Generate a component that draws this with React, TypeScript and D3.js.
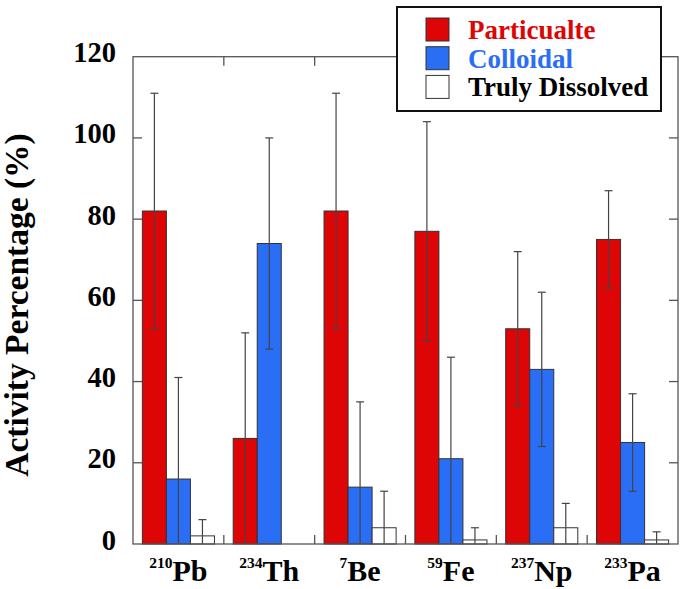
import React from "react";
import * as d3 from "d3";

const isotopeMass = ["210", "234", "7", "59", "237", "233"];
const elements = ["Pb", "Th", "Be", "Fe", "Np", "Pa"];
const seriesNames = ["Particualte", "Colloidal", "Truly Dissolved"];
const particulate = [82, 26, 82, 77, 53, 75];
const particulateErr = [29, 26, 29, 27, 19, 12];
const colloidal = [16, 74, 14, 21, 43, 25];
const colloidalErr = [25, 26, 21, 25, 19, 12];
const dissolved = [2, 0, 4, 1, 4, 1];
const dissolvedErr = [4, 0, 9, 3, 6, 2];
const yTicks = [0, 20, 40, 60, 80, 100, 120];

const fills = ["#dd0505", "#2b6ef6", "#ffffff"];
const textColors = ["#dd0505", "#2b6ef6", "#000000"];
const FONT = "Liberation Serif";

export default function App() {
  const W = 685, H = 589;
  const left = 133, right = 678, top = 56.7, bottom = 544;
  const x0 = d3.scaleBand<string>().domain(elements).range([left, right]).padding(0);
  const x1 = d3
    .scaleBand<string>()
    .domain(seriesNames)
    .range([0, x0.bandwidth()])
    .paddingInner(0)
    .paddingOuter(0.39);
  const y = d3.scaleLinear().domain([0, 120]).range([bottom, top]);

  const values = [particulate, colloidal, dissolved];
  const errs = [particulateErr, colloidalErr, dissolvedErr];

  const bars: any[] = [];
  const errBars: any[] = [];
  elements.forEach((el, i) => {
    seriesNames.forEach((s, j) => {
      const v = values[j][i];
      const e = errs[j][i];
      const bx = (x0(el) as number) + (x1(s) as number);
      const bw = x1.bandwidth();
      if (v > 0) {
        bars.push(
          <rect
            key={`b${i}-${j}`}
            x={bx}
            y={y(v)}
            width={bw}
            height={y(0) - y(v)}
            fill={fills[j]}
            stroke="#333"
            strokeWidth={1}
          />
        );
      }
      if (e > 0) {
        const cx = bx + bw / 2;
        const hi = v + e;
        const lo = Math.max(0, v - e);
        errBars.push(
          <g key={`e${i}-${j}`} stroke="#444" strokeWidth={1.2}>
            <line x1={cx} x2={cx} y1={y(hi)} y2={y(lo)} />
            <line x1={cx - 4} x2={cx + 4} y1={y(hi)} y2={y(hi)} />
            {v - e > 0 && <line x1={cx - 4} x2={cx + 4} y1={y(lo)} y2={y(lo)} />}
          </g>
        );
      }
    });
  });

  const tickLen = 9;

  return (
    <svg
      width={W}
      height={H}
      style={{ position: "absolute", left: 0, top: 0, background: "#fff" }}
    >
      <style>{`text, tspan { font-family: "Liberation Serif", serif; font-weight: bold; }`}</style>
      <rect x={0} y={0} width={W} height={H} fill="#fff" />
      {bars}
      {errBars}
      <rect x={left} y={top} width={right - left} height={bottom - top} fill="none" stroke="#555" strokeWidth={1.3} />
      {yTicks.map((t) => (
        <g key={`yt${t}`}>
          {t > 0 && t < 120 && (
            <>
              <line x1={left} x2={left + tickLen} y1={y(t)} y2={y(t)} stroke="#555" strokeWidth={1.3} />
              <line x1={right} x2={right - tickLen} y1={y(t)} y2={y(t)} stroke="#555" strokeWidth={1.3} />
            </>
          )}
          <text x={116} y={y(t) + 5.5} textAnchor="end" fontSize={28.5} fontFamily={FONT} fontWeight="bold" fill="#000">
            {t}
          </text>
        </g>
      ))}
      {elements.slice(1).map((el) => {
        const xx = x0(el) as number;
        return (
          <g key={`xt${el}`}>
            <line x1={xx} x2={xx} y1={bottom} y2={bottom - tickLen} stroke="#555" strokeWidth={1.3} />
            <line x1={xx} x2={xx} y1={top} y2={top + tickLen} stroke="#555" strokeWidth={1.3} />
          </g>
        );
      })}
      {elements.map((el, i) => {
        const cx = (x0(el) as number) + x0.bandwidth() / 2;
        return (
          <text key={`xl${el}`} x={cx} y={581} textAnchor="middle" fontFamily={FONT} fontWeight="bold" fill="#000">
            <tspan fontSize={15.5} dy={-13}>{isotopeMass[i]}</tspan>
            <tspan fontSize={30} dy={13}>{el}</tspan>
          </text>
        );
      })}
      <text
        transform={`translate(28, ${(132 + 478) / 2}) rotate(-90)`}
        textAnchor="middle"
        fontSize={33.5}
        fontFamily={FONT}
        fontWeight="bold"
        fill="#000"
      >
        Activity Percentage (%)
      </text>
      <rect x={397} y={7} width={264} height={104} fill="#fff" stroke="#111" strokeWidth={2} />
      {seriesNames.map((s, j) => {
        const cy = 29.5 + j * 28.7;
        return (
          <g key={`lg${s}`}>
            <rect x={426} y={cy - 11.5} width={23} height={23} fill={fills[j]} stroke="#333" strokeWidth={1} />
            <text x={468} y={cy + 9.5} fontSize={27} fontFamily={FONT} fontWeight="bold" fill={textColors[j]}>
              {s}
            </text>
          </g>
        );
      })}
    </svg>
  );
}
